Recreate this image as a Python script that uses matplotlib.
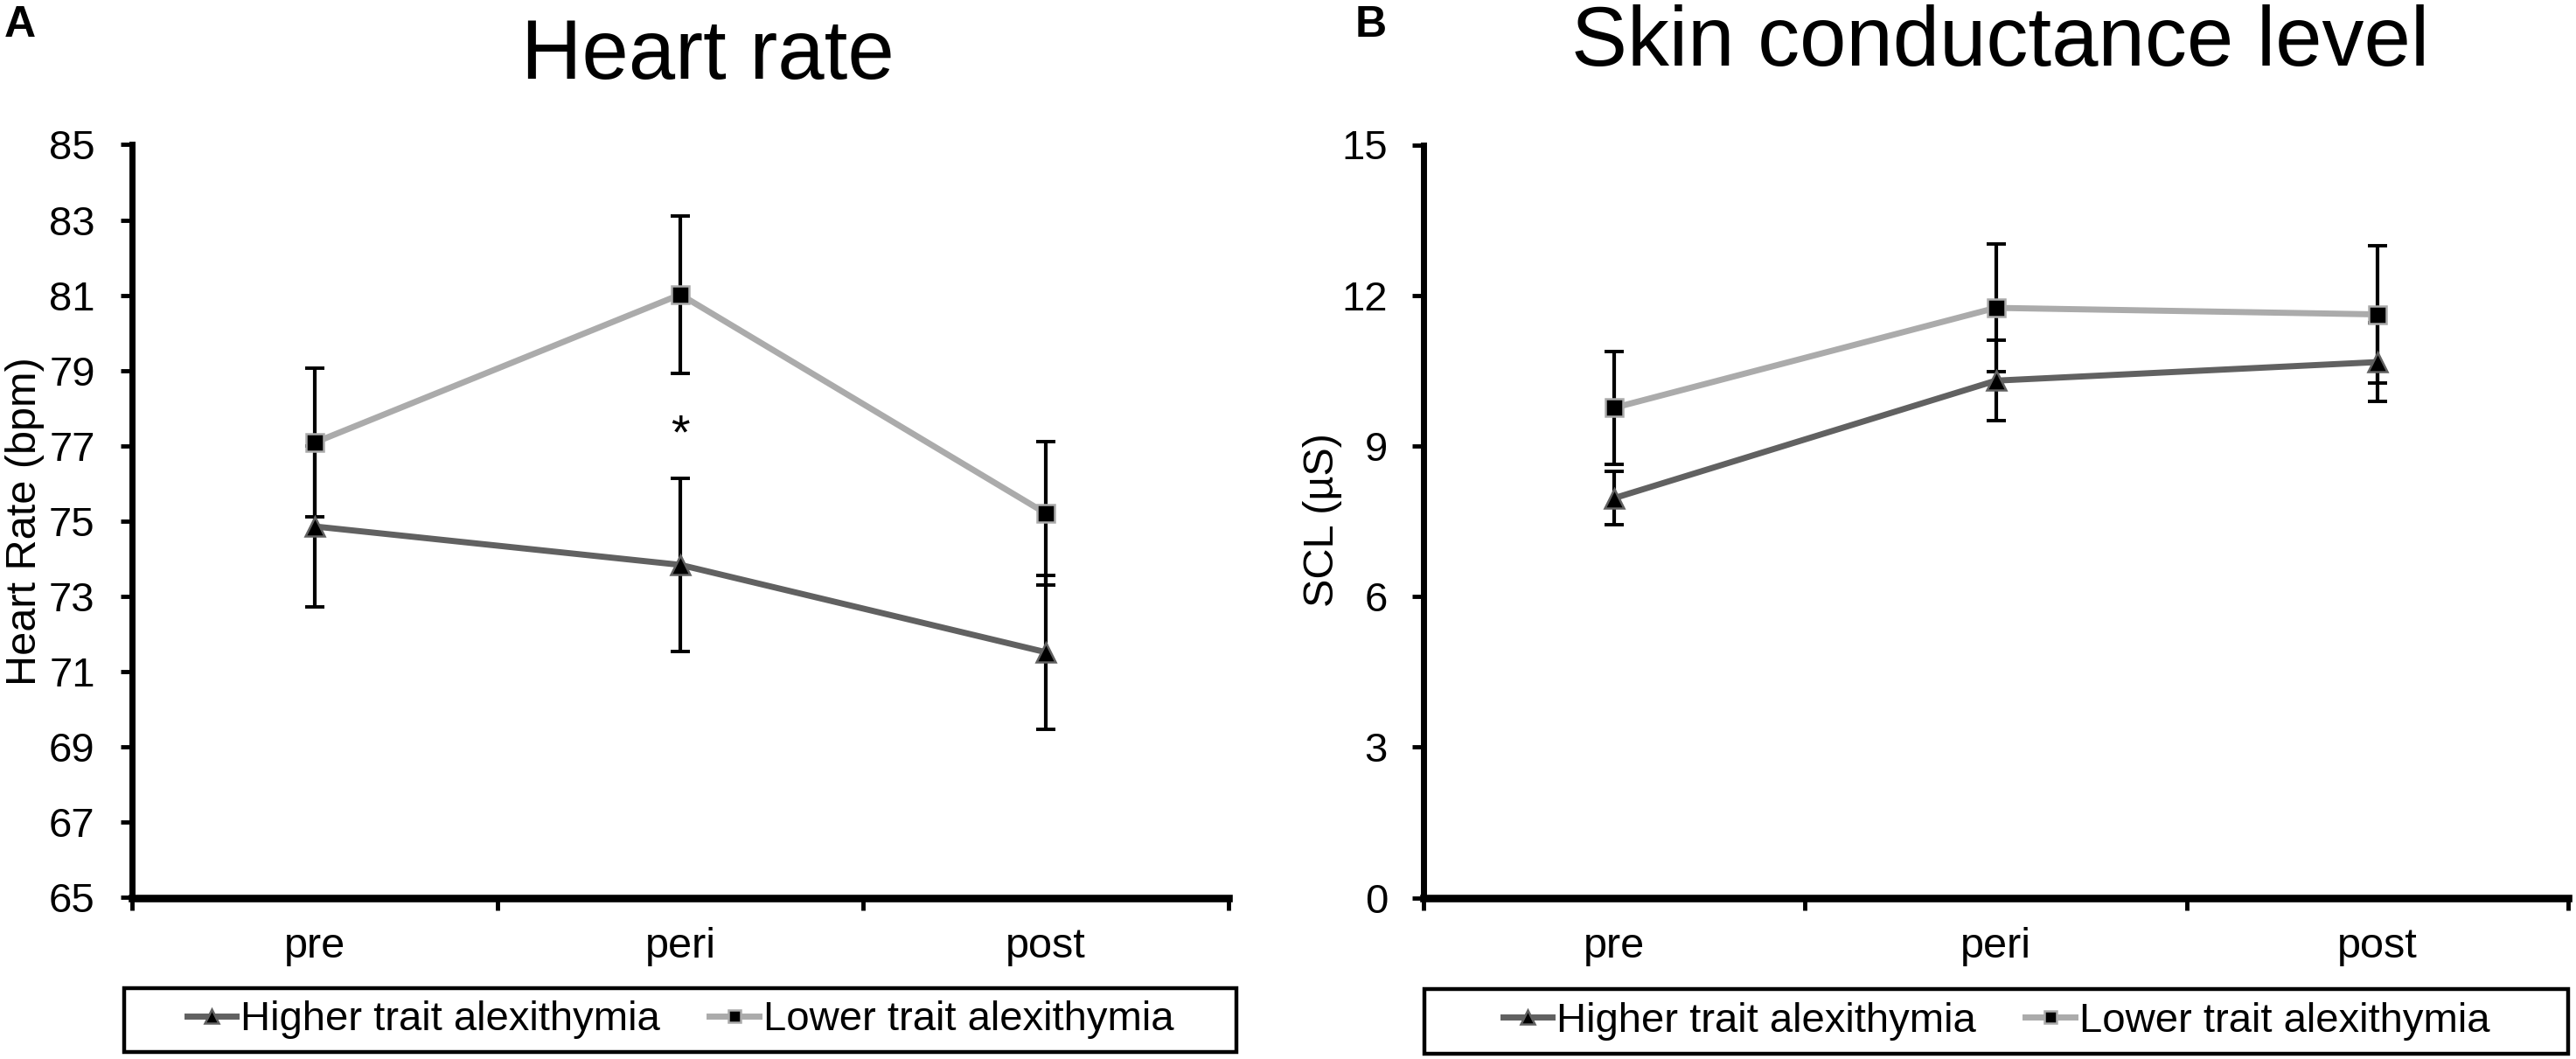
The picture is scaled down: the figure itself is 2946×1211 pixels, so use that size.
import matplotlib
matplotlib.use("Agg")
import matplotlib.pyplot as plt
from matplotlib.patches import Rectangle

plt.rcParams["font.family"] = ["Liberation Sans", "DejaVu Sans"]

# data
categorias = ["pre", "peri", "post"]

hr_higher = [74.86, 73.84, 71.52]
hr_higher_err = [2.13, 2.30, 2.04]
hr_lower = [77.09, 81.02, 75.21]
hr_lower_err = [1.97, 2.09, 1.90]

scl_higher = [7.96, 10.30, 10.67]
scl_higher_err = [0.53, 0.80, 0.79]
scl_lower = [9.76, 11.75, 11.62]
scl_lower_err = [1.12, 1.27, 1.37]

hr_ticks = list(range(65, 86, 2))
scl_ticks = list(range(0, 16, 3))

cor_alta = "#616161"
cor_baixa = "#ababab"

fig = plt.figure(figsize=(29.46, 12.11), dpi=100)
W, H = 2946, 1211


def painel(rect, higher, higher_err, lower, lower_err, yticks, ypad):
    ax = fig.add_axes(rect)
    x = list(range(len(categorias)))
    for serie, err in [(higher, higher_err), (lower, lower_err)]:
        ax.errorbar(x, serie, yerr=err, fmt="none", ecolor="black",
                    elinewidth=3.0, capsize=8, capthick=2.8, zorder=2)
    ax.plot(x, higher, color=cor_alta, lw=5.0, marker="^", ms=16,
            mfc="black", mec=cor_alta, mew=1.8, zorder=3,
            label="Higher trait alexithymia")
    ax.plot(x, lower, color=cor_baixa, lw=5.0, marker="s", ms=14,
            mfc="black", mec=cor_baixa, mew=1.8, zorder=3,
            label="Lower trait alexithymia")
    ax.set_xlim(-0.5, 2.5)
    ax.set_ylim(yticks[0], yticks[-1])
    ax.set_yticks(yticks)
    ax.set_xticks([-0.5, 0.5, 1.5, 2.5])
    ax.set_xticklabels([])
    ax.set_xticks(x, minor=True)
    ax.set_xticklabels(categorias, minor=True)
    for s in ["top", "right"]:
        ax.spines[s].set_visible(False)
    ax.spines["left"].set_linewidth(5.0)
    ax.spines["bottom"].set_linewidth(6.2)
    ax.tick_params(axis="x", which="major", direction="out", length=10, width=3.5)
    ax.tick_params(axis="x", which="minor", length=0, pad=24, labelsize=35)
    ax.tick_params(axis="y", direction="out", length=9.5, width=3.5,
                   pad=ypad, labelsize=34)
    return ax


ax1 = painel([151 / W, 1 - 1026.5 / H, 1254 / W, 861 / H],
             hr_higher, hr_higher_err, hr_lower, hr_lower_err,
             hr_ticks, 21)
ax2 = painel([1628 / W, 1 - 1026.5 / H, 1309 / W, 861 / H],
             scl_higher, scl_higher_err, scl_lower, scl_lower_err,
             scl_ticks, 20)

# asterisco de significancia
ax1.text(1, 76.93, "*", ha="center", va="baseline", fontsize=40)

# titulos, letras e rotulos
fig.text(809 / W, 1 - 90 / H, "Heart rate", ha="center", va="baseline", fontsize=69)
fig.text(2288 / W, 1 - 75 / H, "Skin conductance level", ha="center", va="baseline", fontsize=69)
fig.text(5 / W, 1 - 42 / H, "A", ha="left", va="baseline", fontsize=36, fontweight="bold")
fig.text(1550 / W, 1 - 42 / H, "B", ha="left", va="baseline", fontsize=36, fontweight="bold")
fig.text(29 / W, 1 - 596 / H, "Heart Rate (bpm)", rotation=90, ha="center", va="center", fontsize=35)
fig.text(1512 / W, 1 - 595 / H, "SCL (µS)", rotation=90, ha="center", va="center", fontsize=35)

# legendas com moldura propria
for ax, (x0, x1, y0, y1) in [(ax1, (142, 1414, 1130, 1203)), (ax2, (1629, 2937, 1131, 1205))]:
    fig.patches.append(Rectangle((x0 / W, 1 - y1 / H), (x1 - x0) / W, (y1 - y0) / H,
                                 transform=fig.transFigure, fill=False,
                                 edgecolor="black", linewidth=3.2))
    ax.legend(loc="center", bbox_to_anchor=((x0 + x1) / 2 / W, 1 - (y0 + y1) / 2 / H),
              bbox_transform=fig.transFigure, ncol=2, frameon=False, fontsize=34,
              handlelength=1.2, handletextpad=0.1, columnspacing=1.2,
              markerscale=0.75, borderpad=0)

fig.savefig("out.png", dpi=100)
